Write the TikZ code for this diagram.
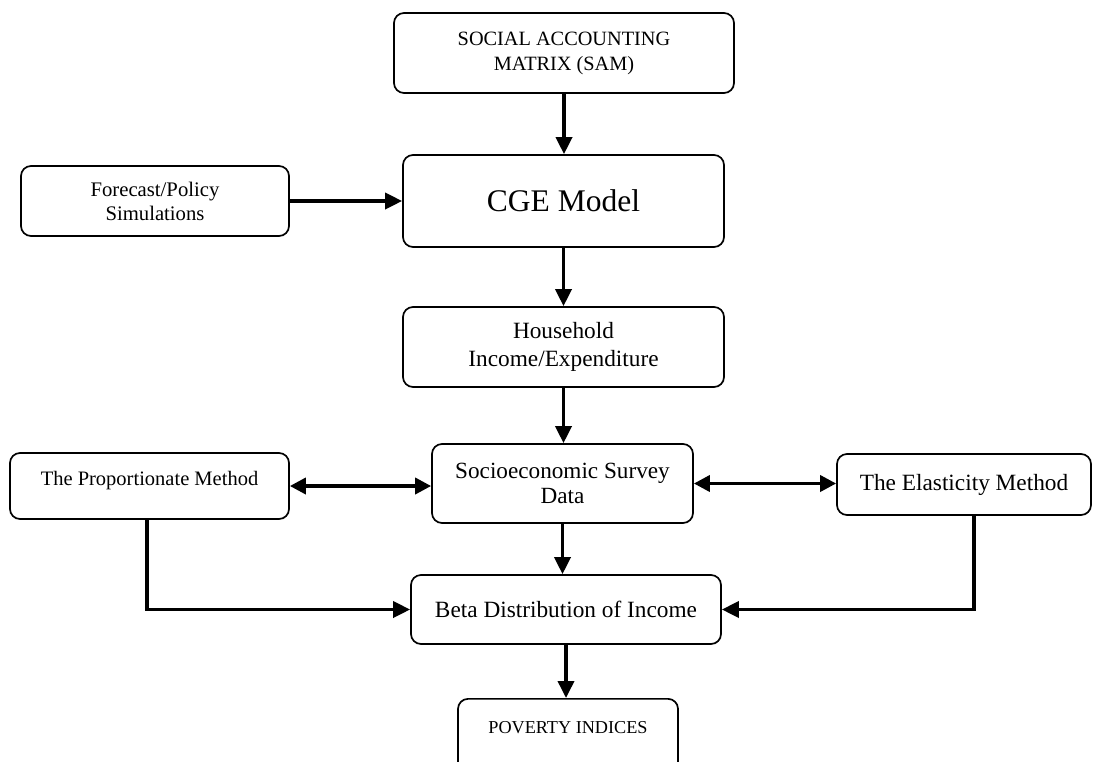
\documentclass[tikz,border=0pt]{standalone}
\usepackage{fontspec}
\setmainfont{Liberation Serif}
\usetikzlibrary{arrows.meta}
\begin{document}
\begin{tikzpicture}[x=1pt,y=-1pt,
  box/.style={draw, line width=1.7pt, rounded corners=10pt, align=center, inner sep=0pt},
  arr/.style={line width=3.6pt, -{Triangle[length=17pt,width=16pt]}},
  darr/.style={line width=3.6pt, {Triangle[length=16pt,width=16pt]}-{Triangle[length=16pt,width=16pt]}}]
\useasboundingbox (0,0) rectangle (1094,761);
\clip (0,0) rectangle (1094,761);

\node[box, minimum width=340pt, minimum height=80pt, font=\fontsize{20.3}{25}\selectfont] (sam) at (564,53) {SOCIAL ACCOUNTING\\MATRIX (SAM)};
\node[box, minimum width=321pt, minimum height=92pt, font=\fontsize{31.5}{36}\selectfont] (cge) at (563.5,201) {CGE Model};
\node[box, minimum width=268pt, minimum height=70pt, font=\fontsize{20.7}{24}\selectfont] (fc) at (155,201) {Forecast/Policy\\Simulations};
\node[box, minimum width=321pt, minimum height=80pt, font=\fontsize{23.3}{28}\selectfont] (hh) at (563.5,347) {Household\\Income/Expenditure};
\node[box, minimum width=261pt, minimum height=79pt, font=\fontsize{23.2}{25}\selectfont] (so) at (562.5,483.5) {Socioeconomic Survey\\Data};
\node[box, minimum width=279pt, text height=27pt, text depth=29pt, inner ysep=5pt, font=\fontsize{20.5}{24}\selectfont] (prop) at (149.5,486) {The Proportionate Method};
\node[box, minimum width=254pt, text height=31pt, text depth=20pt, inner ysep=5pt, font=\fontsize{23.3}{28}\selectfont] (el) at (964,484.5) {The Elasticity Method};
\node[box, minimum width=310pt, minimum height=69pt, font=\fontsize{23.3}{28}\selectfont] (beta) at (566,609.5) {Beta Distribution of Income};
\node[box, anchor=north, minimum width=220pt, text height=30pt, text depth=45pt, inner ysep=5pt, font=\fontsize{18.2}{22}\selectfont] (pov) at (568,698) {POVERTY INDICES};

\draw[arr] (sam.south) -- (sam.south |- cge.north);
\draw[arr] (fc.east) -- (fc.east -| cge.west);
\draw[arr] (cge.south) -- (cge.south |- hh.north);
\draw[arr] (hh.south) -- (hh.south |- so.north);
\draw[darr] (prop.east) -- (prop.east -| so.west);
\draw[darr] (so.east) -- (so.east -| el.west);
\draw[arr] (so.south) -- (so.south |- beta.north);
\draw[arr] ([xshift=-2.5pt]prop.south) |- (beta.west);
\draw[arr] ([xshift=10pt]el.south) |- (beta.east);
\draw[arr] (beta.south) -- (beta.south |- pov.north);
\end{tikzpicture}
\end{document}
